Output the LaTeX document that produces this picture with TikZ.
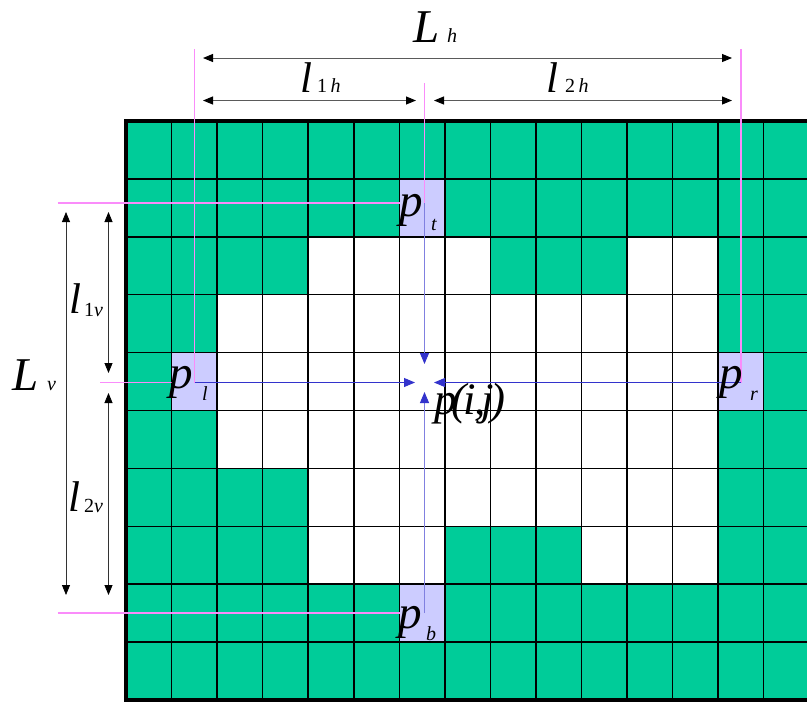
\documentclass[tikz,border=0pt]{standalone}
\usepackage{fontspec}
\setmainfont{Liberation Serif}
\usetikzlibrary{arrows.meta}
\definecolor{cellgreen}{RGB}{0,204,153}
\definecolor{celllav}{RGB}{204,204,255}
\definecolor{pinkline}{RGB}{250,140,250}
\definecolor{bluedark}{RGB}{51,51,204}
\definecolor{bluelight}{RGB}{128,128,224}
\definecolor{dimgray}{RGB}{90,90,90}
\begin{document}
\begin{tikzpicture}[x=1pt,y=-1pt,
  gridline/.style={line width=1.5pt,black},
  border/.style={line width=3.8pt,black},
  refline/.style={pinkline,line width=1.1pt},
  dimline/.style={draw=dimgray,line width=1pt,
    {Triangle[length=10pt,width=8pt,color=black]}-{Triangle[length=10pt,width=8pt,color=black]}},
  dimlinev/.style={draw=black!80,line width=0.8pt,
    {Triangle[length=10pt,width=8pt,color=black]}-{Triangle[length=10pt,width=8pt,color=black]}},
  bluearrowh/.style={draw=bluedark,line width=1pt,-{Triangle[length=11pt,width=9pt,color=bluedark]}},
  bluearrowv/.style={draw=bluelight,line width=1pt,-{Triangle[length=11pt,width=9pt,color=bluedark]}},
  big/.style={inner sep=0pt,anchor=base west,font=\fontsize{47}{47}\selectfont\itshape},
  bigl/.style={inner sep=0pt,anchor=base west,font=\fontsize{43}{43}\selectfont\itshape},
  small/.style={inner sep=0pt,anchor=base west,font=\fontsize{20}{20}\selectfont}
]
\useasboundingbox (0,0) rectangle (807,702);
\clip (0,0) rectangle (807,702);
% cells
\fill[cellgreen] (126,121) rectangle (830,700);
\foreach \r/\a/\b in {2/4/7,2/11/12,3/2/12,4/2/12,5/2/12,6/4/12,7/4/6,7/10/12}{
  \foreach \c in {\a,...,\b}{
    \fill[white] ({126+\c*45.55},{121+\r*57.9}) rectangle +(45.55,57.9);
  }
}
\foreach \c/\r in {6/1,1/4,13/4,6/8}{
  \fill[celllav] ({126+\c*45.55},{121+\r*57.9}) rectangle +(45.55,57.9);
}
% grid lines
\foreach \c in {1,...,15}{
  \draw[gridline] ({126+\c*45.55},121) -- ({126+\c*45.55},700);
}
\foreach \r in {1,...,9}{
  \draw[gridline] (126,{121+\r*57.9}) -- (830,{121+\r*57.9});
}
\draw[border,line join=miter] (830,121) -- (126,121) -- (126,700) -- (830,700);

% coordinates
\coordinate (c) at (424.5,382.5);
\coordinate (ptc) at (424.5,203);
\coordinate (pbc) at (424.5,613);
\coordinate (plc) at (194.5,382.5);
\coordinate (prc) at (741,382.5);
\coordinate (ctop) at (424.5,364);
\coordinate (cbot) at (424.5,392);
\coordinate (cleft) at (415,382.5);
\coordinate (cright) at (434,382.5);
\coordinate (vtop) at (424.5,83);
\coordinate (plv) at (194.5,49);
\coordinate (prv) at (741,49);
\coordinate (pth) at (57.5,203);
\coordinate (pbh) at (57.5,613);
\coordinate (plh) at (100,382.5);
\coordinate (ptleft) at (400,203);
\coordinate (pbleft) at (400,613);
\coordinate (plleft) at (172,382.5);
% dimension coordinates
\coordinate (Lh1) at (203,58);
\coordinate (Lh2) at (732,58);
\coordinate (l1h1) at (203,100.5);
\coordinate (l1h2) at (416,100.5);
\coordinate (l2h1) at (434,100.5);
\coordinate (l2h2) at (732,100.5);
\coordinate (Lv1) at (66,212);
\coordinate (Lv2) at (66,595);
\coordinate (l1v1) at (108.5,212);
\coordinate (l1v2) at (108.5,373);
\coordinate (l2v1) at (108.5,393);
\coordinate (l2v2) at (108.5,595);

% reference lines
\draw[refline] (plv) -- (plc);
\draw[refline] (prv) -- (prc);
\draw[refline] (vtop) -- (ptc);
\draw[refline] (pth) -- (ptleft);
\draw[refline] (pbh) -- (pbleft);
\draw[refline] (plh) -- (plleft);

% blue arrows
\draw[bluearrowv] (ptc) -- (ctop);
\draw[bluearrowv] (pbc) -- (cbot);
\draw[bluearrowh] (plc) -- (cleft);
\draw[bluearrowh] (prc) -- (cright);

% dimension arrows
\draw[dimline] (Lh1) -- (Lh2);
\draw[dimline] (l1h1) -- (l1h2);
\draw[dimline] (l2h1) -- (l2h2);
\draw[dimlinev] (Lv1) -- (Lv2);
\draw[dimlinev] (l1v1) -- (l1v2);
\draw[dimlinev] (l2v1) -- (l2v2);

% labels
\node[big] (Lhl) at (413,42) {L};
\node[small] (Lhs) at (447,42) {\itshape h};
\node[bigl] (l1hl) at (300,92) {l};
\node[small] (l1hs) at (317,92) {1\,\itshape h};
\node[bigl] (l2hl) at (546,92) {l};
\node[small] (l2hs) at (565,92) {2\,\itshape h};
\node[big] (Lvl) at (12,390) {L};
\node[small] (Lvs) at (47,390) {\itshape v};
\node[bigl] (l1vl) at (69,313) {l};
\node[small] (l1vs) at (84,316) {1\itshape v};
\node[bigl] (l2vl) at (68,511) {l};
\node[small] (l2vs) at (84,512) {2\itshape v};
\node[big] (ptl) at (399,216) {p};
\node[small] (pts) at (431,230) {\itshape t};
\node[big] (pll) at (169,388) {p};
\node[small] (pls) at (202,400) {\itshape l};
\node[big] (prl) at (719,388) {p};
\node[small] (prs) at (750,400) {\itshape r};
\node[big] (pbl) at (398,628) {p};
\node[small] (pbs) at (426,640) {\itshape b};
\node[inner sep=0pt,anchor=base west,font=\fontsize{45}{45}\selectfont\itshape] (pij) at (434,414) {p\kern-5pt(\kern-3pt i\kern-2pt,\kern-4pt j\kern-3pt)};
\end{tikzpicture}
\end{document}
